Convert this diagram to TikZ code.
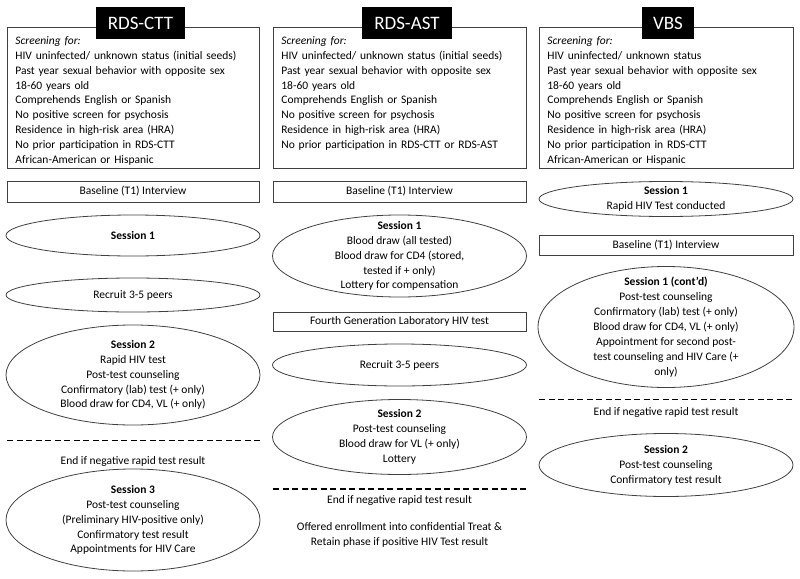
\documentclass[tikz,border=0pt]{standalone}
\usepackage{fontspec}
\setmainfont{Carlito}
\usepackage{tikz}
\usetikzlibrary{positioning}

\begin{document}
\begin{tikzpicture}[x=1pt, y=-1pt,
  font=\fontsize{11.5}{14.9}\selectfont,
  head/.style={fill=black, text=white, font=\fontsize{19}{24}\selectfont, minimum height=32pt, inner xsep=0pt},
  screen/.style={draw=black!75, line width=0.8pt, anchor=north west, align=left, inner xsep=8pt, inner ysep=4pt, text height=13pt, text depth=120pt},
  bar/.style={draw=black!75, line width=0.8pt, minimum height=21pt, inner sep=0pt},
  sess/.style={align=center, inner sep=0pt},
  ring/.style={draw=black!75, line width=0.8pt},
  cut/.style={line width=1.1pt, dash pattern=on 6pt off 3.5pt}]
  \useasboundingbox (0,0) rectangle (800,578);

  % RDS-CTT column
  \node[screen, text width=236pt] (scrctt) at (7,27) {
    \textit{Screening for:}\\
    HIV uninfected/ unknown status (initial seeds)\\
    Past year sexual behavior with opposite sex\\
    18-60 years old\\
    Comprehends English or Spanish\\
    No positive screen for psychosis\\
    Residence in high-risk area (HRA)\\
    No prior participation in RDS-CTT\\
    African-American or Hispanic
  };
  \node[head, minimum width=89pt] (hctt) at (140.5,23) {RDS-CTT};
  \node[bar, minimum width=252pt] (blctt) at (133,191.5) {Baseline (T1) Interview};
  \node[sess] (s1ctt) at (133,235.5) {\textbf{Session 1}};
  \draw[ring] (s1ctt.center) ellipse [x radius=127pt, y radius=20.5pt];
  \node[sess] (rcctt) at (133,295) {Recruit 3-5 peers};
  \draw[ring] (rcctt.center) ellipse [x radius=127pt, y radius=17pt];
  \node[sess] (s2ctt) at (133,375) {
    \textbf{Session 2}\\
    Rapid HIV test\\
    Post-test counseling\\
    Confirmatory (lab) test (+ only)\\
    Blood draw for CD4, VL (+ only)
  };
  \draw[ring] (s2ctt.center) ellipse [x radius=127pt, y radius=50pt];
  \coordinate (cctta) at (7,440.7);
  \coordinate (ccttb) at (260,440.7);
  \draw[cut] (cctta) -- (ccttb);
  \node[sess] (endctt) at (133,461) {End if negative rapid test result};
  \node[sess] (s3ctt) at (133,520) {
    \textbf{Session 3}\\
    Post-test counseling\\
    (Preliminary HIV-positive only)\\
    Confirmatory test result\\
    Appointments for HIV Care
  };
  \draw[ring] (s3ctt.center) ellipse [x radius=127pt, y radius=51pt];

  % RDS-AST column
  \node[screen, text width=237pt] (scrast) at (273,27) {
    \textit{Screening for:}\\
    HIV uninfected/ unknown status (initial seeds)\\
    Past year sexual behavior with opposite sex\\
    18-60 years old\\
    Comprehends English or Spanish\\
    No positive screen for psychosis\\
    Residence in high-risk area (HRA)\\
    No prior participation in RDS-CTT or RDS-AST
  };
  \node[head, minimum width=90pt] (hast) at (407,23) {RDS-AST};
  \node[bar, minimum width=253pt] (blast) at (399.5,191.5) {Baseline (T1) Interview};
  \node[sess] (s1ast) at (399.5,256) {
    \textbf{Session 1}\\
    Blood draw (all tested)\\
    Blood draw for CD4 (stored,\\
    tested if + only)\\
    Lottery for compensation
  };
  \draw[ring] (s1ast.center) ellipse [x radius=127pt, y radius=41pt];
  \node[bar, minimum width=253pt, minimum height=19pt] (lab) at (399.5,321.5) {Fourth Generation Laboratory HIV test};
  \node[sess] (rcast) at (399.5,365) {Recruit 3-5 peers};
  \draw[ring] (rcast.center) ellipse [x radius=127pt, y radius=21pt];
  \node[sess] (s2ast) at (399.5,437) {
    \textbf{Session 2}\\
    Post-test counseling\\
    Blood draw for VL (+ only)\\
    Lottery
  };
  \draw[ring] (s2ast.center) ellipse [x radius=127pt, y radius=37.5pt];
  \coordinate (casta) at (273,489);
  \coordinate (castb) at (527,489);
  \draw[cut] (casta) -- (castb);
  \node[sess] (endast) at (399.5,500.7) {End if negative rapid test result};
  \node[sess] (offer) at (399.5,534.5) {
    Offered enrollment into confidential Treat \&\\
    Retain phase if positive HIV Test result
  };

  % VBS column
  \node[screen, text width=238pt] (scrvbs) at (539,27) {
    \textit{Screening for:}\\
    HIV uninfected/ unknown status\\
    Past year sexual behavior with opposite sex\\
    18-60 years old\\
    Comprehends English or Spanish\\
    No positive screen for psychosis\\
    Residence in high-risk area (HRA)\\
    No prior participation in RDS-CTT\\
    African-American or Hispanic
  };
  \node[head, minimum width=52pt] (hvbs) at (668,23) {VBS};
  \node[sess] (s1vbs) at (666,199) {
    \textbf{Session 1}\\
    Rapid HIV Test conducted
  };
  \draw[ring] (s1vbs.center) ellipse [x radius=127pt, y radius=17.5pt];
  \node[bar, minimum width=254pt, minimum height=20pt] (blvbs) at (666,245) {Baseline (T1) Interview};
  \node[sess] (s1cvbs) at (666,327) {
    \textbf{Session 1 (cont'd)}\\
    Post-test counseling\\
    Confirmatory (lab) test (+ only)\\
    Blood draw for CD4, VL (+ only)\\
    Appointment for second post-\\
    test counseling and HIV Care (+\\
    only)
  };
  \draw[ring] (s1cvbs.center) ellipse [x radius=128pt, y radius=60.5pt];
  \coordinate (cvbsa) at (539,399.5);
  \coordinate (cvbsb) at (793,399.5);
  \draw[cut] (cvbsa) -- (cvbsb);
  \node[sess] (endvbs) at (666,412) {End if negative rapid test result};
  \node[sess] (s2vbs) at (666,465) {
    \textbf{Session 2}\\
    Post-test counseling\\
    Confirmatory test result
  };
  \draw[ring] (s2vbs.center) ellipse [x radius=127pt, y radius=31.5pt];
\end{tikzpicture}
\end{document}
